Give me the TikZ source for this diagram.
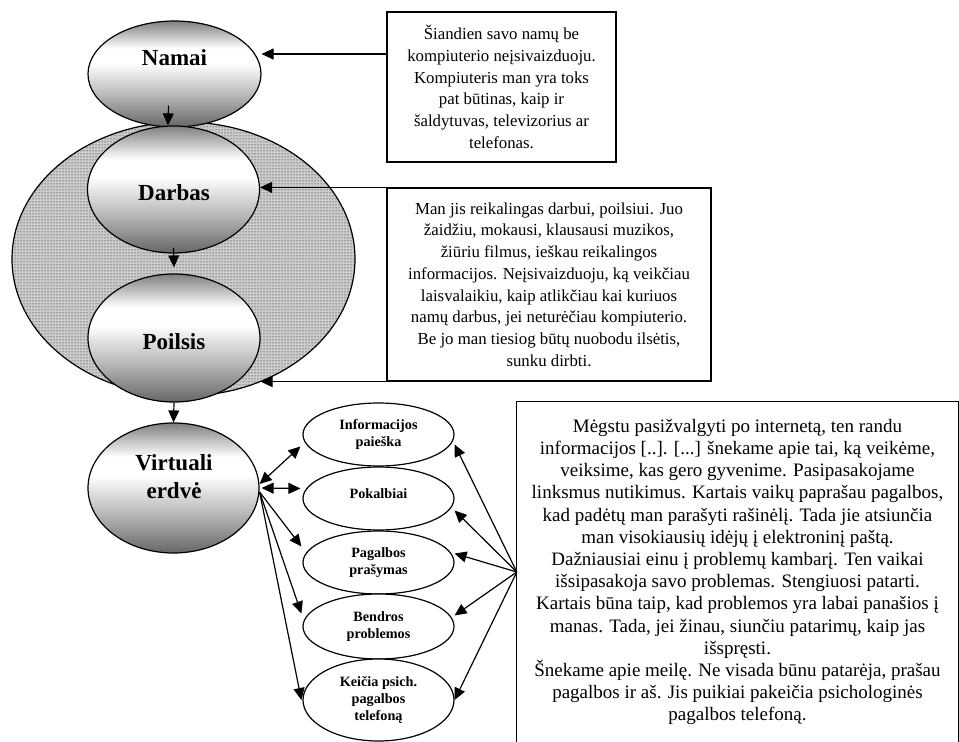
\documentclass[tikz,border=0pt]{standalone}
\usepackage{fontspec}
\setmainfont{Liberation Serif}
\usetikzlibrary{shapes.geometric,arrows.meta,patterns}
\pgfdeclareverticalshading{ballshade}{100bp}{color(0bp)=(black!60); color(25bp)=(black!60); color(40bp)=(black!28); color(55bp)=(white); color(62bp)=(white); color(75bp)=(black!50); color(100bp)=(black!50)}
\begin{document}
\begin{tikzpicture}[x=1pt,y=-1pt,
  ball/.style={ellipse, draw, line width=1.2pt, shading=ballshade, inner sep=0pt},
  small/.style={ellipse, draw, line width=1.2pt, fill=white, inner sep=0pt, minimum width=151pt, align=center,
     font=\bfseries\fontsize{14.2}{16.7}\selectfont},
  bigtxt/.style={font=\bfseries\fontsize{23}{28}\selectfont, align=center, inner sep=0pt},
  quote/.style={draw, line width=1.2pt, fill=white, align=center, inner sep=0pt,
     font=\fontsize{16.8}{21.7}\selectfont},
  arr/.style={-{Triangle[length=12pt,width=11pt]}, line width=1.2pt},
  arrb/.style={{Triangle[length=12pt,width=11pt]}-{Triangle[length=12pt,width=11pt]}, line width=1.2pt}
]
\useasboundingbox (0,0) rectangle (959,742);

% big dotted ellipse
\node[ellipse, draw, line width=1.2pt, fill=black!20, postaction={pattern=dots, pattern color=black},
  minimum width=343pt, minimum height=274pt, inner sep=0pt] (bigell) at (183.5,259) {};

% main ellipses
\node[ball, minimum width=173pt, minimum height=106pt] (namai) at (174.5,74) {};
\node[ball, minimum width=172pt, minimum height=127pt] (darbas) at (173.5,189.5) {};
\node[ball, minimum width=172pt, minimum height=128pt] (poilsis) at (174,338) {};
\node[ball, minimum width=171pt, minimum height=130pt] (virt) at (173.5,488) {};

\node[bigtxt] (tnamai) at (174.5,58) {Namai};
\node[bigtxt] (tdarbas) at (174,193) {Darbas};
\node[bigtxt] (tpoilsis) at (174,342) {Poilsis};
\node[bigtxt] (tvirt) at (174,477) {Virtuali\\erdvė};

% vertical arrows
\draw[arr] ([xshift=-6pt,yshift=22pt]namai.south) -- ([xshift=-5.5pt]darbas.north);
\draw[arr] ([yshift=6pt]darbas.south) -- ([yshift=6pt]poilsis.north);
\draw[arr] (poilsis.south) -- (virt.north);

% quote boxes
\node[quote, minimum width=229pt, minimum height=150pt] (box1) at (501.5,87) {Šiandien savo namų be\\
kompiuterio neįsivaizduoju.\\
Kompiuteris man yra toks\\
pat būtinas, kaip ir\\
šaldytuvas, televizorius ar\\
telefonas.};

\node[quote, minimum width=324pt, minimum height=193pt] (box2) at (549,284.5) {Man jis reikalingas darbui, poilsiui. Juo\\
žaidžiu, mokausi, klausausi muzikos,\\
žiūriu filmus, ieškau reikalingos\\
informacijos. Neįsivaizduoju, ką veikčiau\\
laisvalaikiu, kaip atlikčiau kai kuriuos\\
namų darbus, jei neturėčiau kompiuterio.\\
Be jo man tiesiog būtų nuobodu ilsėtis,\\
sunku dirbti.};

\node[align=center, inner sep=0pt, minimum width=441pt, minimum height=340pt,
  font=\fontsize{19}{22.2}\selectfont] (box3) at (737.5,572) {Mėgstu pasižvalgyti po internetą, ten randu\\
informacijos [..]. [...] šnekame apie tai, ką veikėme,\\
veiksime, kas gero gyvenime. Pasipasakojame\\
linksmus nutikimus. Kartais vaikų paprašau pagalbos,\\
kad padėtų man parašyti rašinėlį. Tada jie atsiunčia\\
man visokiausių idėjų į elektroninį paštą.\\
Dažniausiai einu į problemų kambarį. Ten vaikai\\
išsipasakoja savo problemas. Stengiuosi patarti.\\
Kartais būna taip, kad problemos yra labai panašios į\\
manas. Tada, jei žinau, siunčiu patarimų, kaip jas\\
išspręsti.\\
Šnekame apie meilę. Ne visada būnu patarėja, prašau\\
pagalbos ir aš. Jis puikiai pakeičia psichologinės\\
pagalbos telefoną.};
\draw[line width=1.2pt] (box3.south west) -- (box3.north west) -- (box3.north east) -- (box3.south east);
\coordinate (hub) at (box3.west);

% arrows from quote boxes
\draw[arr] (box1.west |- 0,54) -- (namai.east |- 0,54);
\draw[arr] (box2.north west) -- (darbas.east |- box2.north west);
\draw[arr] (box2.south west) -- (poilsis.east |- box2.south west);

% small ellipses
\node[small, minimum height=63pt] (info) at (378.5,434.5) {Informacijos\\paieška};
\node[small, minimum height=63pt] (pok) at (378.5,498.5) {Pokalbiai\\[-6pt]\mbox{}};
\node[small, minimum height=63pt] (pag) at (378.5,562.5) {Pagalbos\\prašymas};
\node[small, minimum height=65pt] (ben) at (378.5,626.5) {Bendros\\problemos};
\node[small, minimum height=82pt] (kei) at (378.5,700) {Keičia psich.\\pagalbos\\telefoną};

% connectors from Virtuali erdve
\draw[arrb] ([yshift=4pt]virt.east) -- ([xshift=-2pt,yshift=-12pt]info.west);
\draw[arrb] ([xshift=2pt]virt.east) -- ([xshift=-2pt,yshift=10pt]pok.west);
\draw[arr] ([yshift=-4pt]virt.east) -- ([xshift=-1pt,yshift=16pt]pag.west);
\draw[arr] ([yshift=-4pt]virt.east) -- ([xshift=-1pt,yshift=13pt]ben.west);
\draw[arr] ([yshift=-4pt]virt.east) -- ([xshift=-1pt]kei.west);

% connectors from the third quote
\draw[arr] (hub) -- ([yshift=-10pt]info.east);
\draw[arr] (hub) -- ([yshift=-12pt]pok.east);
\draw[arr] (hub) -- ([yshift=9pt]pag.east);
\draw[arr] (hub) -- ([yshift=11pt]ben.east);
\draw[arr] (hub) -- (kei.east);
\end{tikzpicture}
\end{document}
